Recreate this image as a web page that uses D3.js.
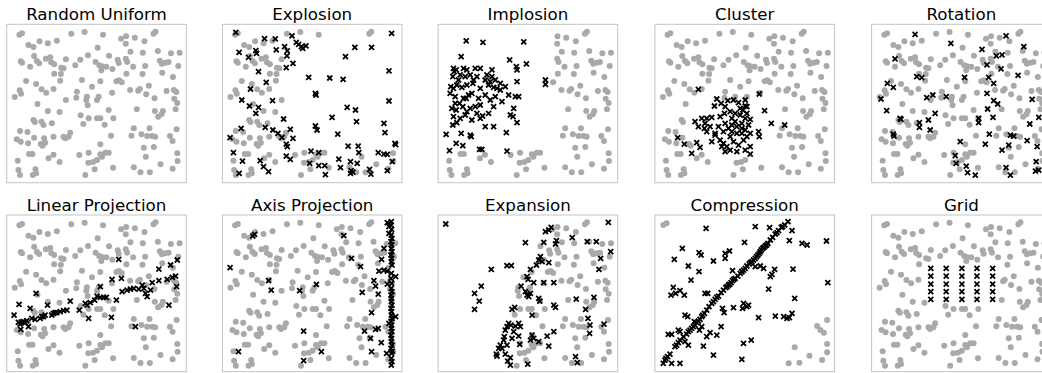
<!DOCTYPE html>
<html><head><meta charset="utf-8">
<script src="https://cdn.jsdelivr.net/npm/d3@7"></script>
<style>html,body{margin:0;padding:0;background:#fff;}</style>
</head><body>
<script>
// ---------- DATA (arbitrary units, x in [0,537], y in [0,475]) ----------
const titles = ["Random Uniform","Explosion","Implosion","Cluster","Rotation",
                "Linear Projection","Axis Projection","Expansion","Compression","Grid"];

const uniformPoints = [
[38,444],[46,448],[193,447],[233,452],[288,444],[342,432],[357,439],[356,417],[383,435],[412,424],
[439,447],[445,453],[65,413],[80,407],[98,424],[123,418],[150,426],[272,405],[82,380],[42,364],
[46,360],[70,348],[90,365],[97,358],[117,372],[130,376],[133,361],[142,355],[177,370],[220,369],
[243,382],[266,362],[277,352],[285,349],[298,348],[306,381],[316,341],[332,369],[335,359],[356,372],
[360,362],[370,393],[378,348],[407,390],[414,350],[452,395],[458,366],[464,357],[474,360],[484,362],
[491,388],[517,390],[513,350],[205,352],[163,345],[170,343],[142,327],[162,326],[160,306],[283,337],
[358,327],[406,326],[465,330],[497,317],[58,305],[88,296],[104,280],[118,270],[140,281],[39,277],
[43,267],[24,257],[92,236],[123,215],[158,212],[177,248],[210,273],[208,255],[225,308],[255,288],
[280,304],[240,258],[238,248],[270,248],[275,258],[242,232],[315,270],[328,304],[336,307],[344,301],
[369,278],[393,276],[398,281],[417,265],[442,253],[425,291],[478,275],[500,278],[507,272],[501,252],
[510,239],[505,220],[389,220],[305,218],[221,202],[80,188],[84,182],[104,183],[110,173],[135,178],
[229,176],[245,193],[270,193],[280,193],[319,193],[293,174],[443,215],[467,215],[463,205],[453,198],
[508,160],[380,163],[427,163],[40,155],[62,152],[30,130],[42,123],[64,118],[82,135],[112,133],
[102,116],[107,111],[115,120],[140,138],[170,138],[175,133],[190,150],[185,138],[280,115],[312,141],
[373,141],[403,145],[420,140],[435,140],[444,138],[488,140],[496,125],[410,105],[440,107],[67,86],
[77,86],[33,66],[140,84],[125,73],[158,62],[217,83],[245,90],[280,85],[295,90],[305,90],
[285,78],[244,60],[258,62],[270,68],[235,23],[263,40],[318,45],[380,46],[400,31],[428,31],
[460,55],[496,42],[510,88],[511,65],[416,78],[35,38],[40,23],[78,23],[88,28],[86,40]
];

// regions whose uniform points were moved (shown as crosses instead of grey dots)
const explosionMovedBox = [205, 540, 100, 440];   // x0, x1, y0, y1
const implosionMovedBox = [-5, 342, 93, 480];
const clusterMovedEllipse = [225, 160, 130, 95];  // cx, cy, rx, ry
const expansionMovedBoxes = [[-5, 225, -5, 480], [-5, 300, 330, 480]];
const gridMovedBox = [160, 378, 205, 332];

const compressionGrey = [[25,445],[35,450],[515,160],[485,142],[495,130],[505,122],[515,88],[418,78],
[515,63],[462,53],[500,40],[400,30],[432,32]];

const explosionPoints = [
[40,451],[126,432],[158,431],[208,440],[221,421],[228,415],[236,408],[240,403],[250,410],[186,408],
[194,395],[161,398],[100,396],[102,388],[50,391],[78,376],[193,380],[211,358],[191,345],[108,333],
[131,301],[84,281],[58,248],[81,230],[108,226],[100,208],[150,246],[183,191],[128,166],[56,163],
[151,158],[166,148],[203,160],[178,136],[211,133],[191,116],[194,108],[23,135],[33,90],[60,65],
[113,66],[123,48],[138,33],[50,28],[191,80],[203,70],[265,95],[261,58],[288,90],[288,51],
[306,51],[308,24],[348,71],[353,45],[376,110],[383,63],[385,36],[383,28],[390,32],[403,58],
[408,90],[406,110],[440,40],[444,26],[466,90],[483,86],[493,85],[493,36],[508,63],[516,118],
[518,114],[486,150],[483,178],[278,170],[283,158],[345,146],[328,196],[373,226],[398,218],[401,183],
[278,268],[280,263],[258,316],[321,314],[361,310],[368,378],[396,406],[446,406],[498,335],[498,245],
[506,448]
];

const implosionPoints = [
[84,425],[134,421],[256,422],[69,378],[214,368],[234,348],[236,338],[264,356],[46,343],[54,338],
[76,343],[86,338],[111,343],[126,343],[161,338],[44,318],[66,323],[81,318],[96,323],[116,318],
[141,308],[156,303],[171,308],[186,298],[236,303],[321,308],[321,295],[38,288],[56,293],[71,286],
[86,293],[104,298],[126,283],[151,293],[166,286],[201,288],[211,263],[231,258],[241,258],[36,268],
[51,258],[76,253],[91,263],[101,268],[121,253],[141,263],[156,248],[171,258],[191,243],[226,223],
[41,223],[54,218],[74,228],[86,213],[96,223],[111,228],[126,233],[151,208],[46,198],[66,193],
[81,203],[101,188],[126,193],[133,200],[216,203],[224,198],[236,180],[44,173],[56,180],[141,168],
[166,168],[24,145],[69,148],[96,143],[99,138],[204,150],[54,118],[74,111],[34,96],[124,100],
[131,100],[206,95],[84,253],[64,238],[186,278],[176,283],[146,323],[161,318],[48,333],[61,308],
[106,308],[51,238],[116,208],[166,228],[46,283]
];

const clusterPoints = [
[130,280],[312,266],[185,251],[178,230],[198,238],[218,246],[235,248],[250,240],[270,230],[263,218],
[275,228],[328,216],[208,208],[195,198],[225,213],[240,208],[255,203],[270,193],[285,190],[140,193],
[155,193],[170,196],[130,168],[148,163],[165,168],[180,148],[210,178],[230,173],[245,168],[260,163],
[270,158],[285,148],[310,153],[312,138],[348,178],[388,173],[68,135],[88,116],[125,120],[135,106],
[110,88],[180,143],[195,128],[205,118],[215,108],[225,138],[235,123],[250,113],[265,128],[275,138],
[210,93],[225,98],[245,93],[270,98],[285,86],[285,108],[200,108],[155,153],[170,123],[230,153],
[245,148],[260,148],[120,183],[150,178],[240,183],[260,178],[280,173],[220,163],[205,153],[190,168],
[255,223],[270,248],[210,228],[230,193],[275,208]
];

const rotationPoints = [
[130,445],[237,418],[402,440],[330,400],[373,380],[390,383],[70,371],[455,408],[135,318],[150,315],
[47,298],[65,286],[278,316],[345,353],[387,341],[350,316],[365,298],[438,322],[28,251],[165,255],
[183,263],[223,258],[345,268],[365,246],[377,236],[480,250],[45,216],[190,208],[85,193],[88,190],
[143,180],[170,188],[143,166],[175,158],[320,193],[320,180],[363,196],[347,221],[500,196],[473,176],
[65,146],[67,140],[352,146],[415,143],[425,140],[340,116],[265,123],[390,98],[410,113],[465,126],
[495,108],[250,81],[253,58],[283,50],[287,30],[310,23],[402,45],[415,23],[492,63],[490,35],[500,38]
];

const linearProjectionPoints = [
[510,340],[455,313],[490,325],[495,288],[505,292],[508,260],[485,205],[480,282],[455,278],[435,272],
[430,250],[420,230],[405,265],[410,255],[415,240],[395,253],[380,255],[370,253],[360,250],[345,245],
[328,220],[335,342],[343,285],[315,282],[313,168],[280,260],[270,232],[280,228],[290,228],[298,228],
[263,220],[250,212],[235,210],[240,205],[217,190],[245,165],[190,217],[180,190],[170,188],[160,185],
[150,182],[140,180],[135,175],[122,205],[115,175],[105,170],[100,165],[85,162],[75,165],[70,195],
[88,240],[37,207],[22,175],[35,153],[40,148],[45,153],[50,155],[42,132],[60,158],[65,140],
[385,140],[145,182],[110,170],[55,152]
];

const axisProjectionPoints = [
[96,417],[91,412],[363,413],[23,317],[386,345],[413,320],[476,342],[483,375],[498,420],[493,452],
[498,440],[468,307],[483,310],[493,307],[518,290],[453,278],[458,262],[418,243],[466,238],[493,268],
[138,278],[146,250],[231,248],[281,267],[446,182],[425,127],[458,132],[466,135],[443,105],[475,92],
[498,150],[243,127],[48,65],[296,65],[243,38],[446,65],[491,60],[508,67],[518,170],
[505,455],[504,445],[506,432],[505,415],[507,405],[504,395],[506,385],[505,375],[507,365],[504,355],
[506,345],[505,335],[507,325],[505,300],[504,285],[506,270],[505,255],[507,245],[504,235],[506,225],
[505,215],[507,205],[504,195],[506,185],[505,175],[507,165],[504,155],[506,145],[505,135],[507,125],
[504,115],[506,105],[505,95],[507,85],[504,75],[506,60],[505,45],[507,35],[505,25]
];

const expansionPoints = [
[23,448],[509,453],[338,438],[321,425],[331,430],[261,392],[316,393],[354,398],[351,388],[401,407],
[446,395],[473,395],[516,365],[486,345],[481,312],[159,312],[206,323],[219,323],[276,312],[266,290],
[269,282],[301,340],[306,350],[311,335],[331,332],[294,325],[286,272],[316,272],[346,272],[248,262],
[129,262],[109,240],[123,217],[109,192],[261,245],[266,235],[271,230],[276,240],[301,225],[304,217],
[346,205],[351,198],[229,198],[221,192],[281,175],[413,223],[466,228],[441,192],[448,165],[454,145],
[453,120],[496,148],[211,150],[206,140],[218,145],[231,142],[241,150],[246,140],[201,130],[226,125],
[241,112],[221,105],[198,110],[196,100],[186,85],[181,75],[191,75],[206,85],[244,87],[276,100],
[286,105],[301,95],[326,112],[346,125],[331,82],[174,58],[176,52],[201,58],[216,47],[208,37],
[216,25],[268,28],[411,50],[416,32],[281,115]
];

const compressionPoints = [
[25,30],[30,40],[38,50],[45,58],[60,80],[65,85],[75,100],[85,110],[95,118],[100,125],
[110,135],[120,145],[125,152],[130,157],[140,170],[148,180],[155,190],[162,200],[170,210],[180,222],
[190,232],[198,242],[205,250],[212,257],[220,265],[228,272],[232,278],[240,285],[248,292],[255,300],
[265,310],[275,322],[282,328],[290,335],[295,340],[300,345],[308,355],[315,365],[322,375],[330,382],
[338,390],[345,400],[352,408],[360,418],[370,428],[378,438],[388,445],[398,455],
[33,45],[70,92],[105,130],[115,140],[135,162],[143,175],[175,215],[185,228],[216,260],[224,268],
[236,282],[260,305],[270,315],[286,332],[304,350],[312,360],[318,370],[326,378],[334,385],[365,422],
[382,440],
[153,435],[300,440],[343,437],[410,428],[402,398],[440,390],[455,385],[513,397],[268,393],[82,375],
[58,342],[132,362],[138,355],[175,337],[210,360],[223,367],[210,345],[100,322],[132,305],[108,280],
[232,308],[260,305],[300,320],[315,322],[325,315],[358,312],[345,290],[350,297],[413,313],[517,272],
[340,253],[55,258],[48,235],[62,240],[75,248],[88,235],[150,240],[158,240],[202,195],[207,182],
[235,197],[265,210],[262,195],[275,200],[280,205],[418,225],[310,167],[360,172],[385,170],[395,165],
[402,167],[410,180],[90,175],[98,170],[40,117],[50,117],[70,130],[75,125],[90,95],[100,85],
[145,82],[155,110],[165,122],[185,115],[198,140],[265,90],[288,100],[175,55],[260,42],[50,30],
[75,30],[118,155],[133,130],[140,140]
];

const gridColumns = [177, 223, 270, 315, 362];
const gridRows = [315, 292, 268, 245, 222];

// ---------- LAYOUT ----------
const W = 1042, H = 373;
const colLefts = [6.7, 222.4, 438.1, 654.9, 871.6];
const rows = [
  {top: 24.3, height: 158.4, yDomain: [0, 475]},
  {top: 215.0, height: 156.7, yDomain: [5, 475]}
];
const boxW = 179.6;
const GREY = "#a9a9a9";

const inBox = (p, b) => p[0] >= b[0] && p[0] <= b[1] && p[1] >= b[2] && p[1] <= b[3];
const inEllipse = (p, e) => ((p[0]-e[0])/e[2])**2 + ((p[1]-e[1])/e[3])**2 <= 1;

const gridPoints = [];
gridRows.forEach(y => gridColumns.forEach(x => gridPoints.push([x, y])));

const panels = [
  {grey: uniformPoints, marks: []},
  {grey: uniformPoints.filter(p => !inBox(p, explosionMovedBox)), marks: explosionPoints},
  {grey: uniformPoints.filter(p => !inBox(p, implosionMovedBox)), marks: implosionPoints},
  {grey: uniformPoints.filter(p => !inEllipse(p, clusterMovedEllipse)), marks: clusterPoints},
  {grey: uniformPoints, marks: rotationPoints},
  {grey: uniformPoints, marks: linearProjectionPoints},
  {grey: uniformPoints, marks: axisProjectionPoints},
  {grey: uniformPoints.filter(p => !expansionMovedBoxes.some(b => inBox(p, b))), marks: expansionPoints},
  {grey: compressionGrey, marks: compressionPoints},
  {grey: uniformPoints.filter(p => !inBox(p, gridMovedBox)), marks: gridPoints}
];

const svg = d3.select("body").append("svg")
  .attr("width", W).attr("height", H)
  .style("display", "block")
  .style("font-family", "'DejaVu Sans', sans-serif");
svg.append("rect").attr("width", W).attr("height", H).attr("fill", "#fff");

const defs = svg.append("defs");

panels.forEach((panel, i) => {
  const col = i % 5, r = rows[Math.floor(i / 5)];
  const left = colLefts[col], top = r.top, boxH = r.height;
  const x = d3.scaleLinear().domain([0, 537]).range([left, left + boxW]);
  const y = d3.scaleLinear().domain(r.yDomain).range([top + boxH, top]);

  const clipId = "clip" + i;
  defs.append("clipPath").attr("id", clipId)
    .append("rect").attr("x", left).attr("y", top).attr("width", boxW).attr("height", boxH);

  const g = svg.append("g");
  const inner = g.append("g").attr("clip-path", `url(#${clipId})`);

  inner.selectAll("circle").data(panel.grey).join("circle")
    .attr("cx", d => x(d[0])).attr("cy", d => y(d[1]))
    .attr("r", 3).attr("fill", GREY);

  const s = 2.5;
  inner.selectAll("path.mk").data(panel.marks).join("path")
    .attr("class", "mk")
    .attr("d", d => {
      const cx = x(d[0]), cy = y(d[1]);
      return `M${cx-s},${cy-s}L${cx+s},${cy+s}M${cx-s},${cy+s}L${cx+s},${cy-s}`;
    })
    .attr("stroke", "#000").attr("stroke-width", 1.8).attr("fill", "none");

  g.append("rect").attr("x", left).attr("y", top).attr("width", boxW).attr("height", boxH)
    .attr("fill", "none").attr("stroke", "#c4c4c4").attr("stroke-width", 1);

  g.append("text").attr("x", left + boxW / 2).attr("y", top - 4.3)
    .attr("text-anchor", "middle").attr("font-size", "16.7px").attr("fill", "#000")
    .text(titles[i]);
});
</script>
</body></html>
